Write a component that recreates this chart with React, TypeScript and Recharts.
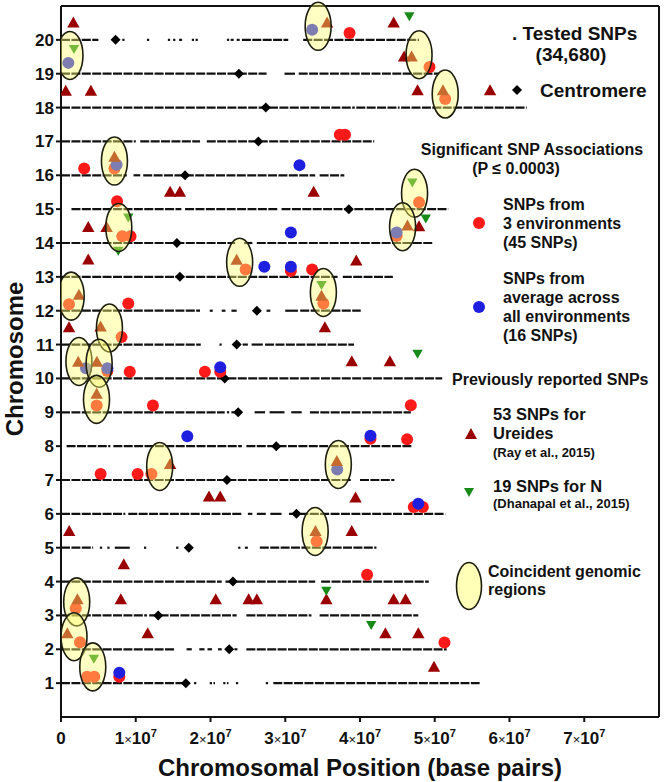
import React from "react";
import { ScatterChart, Scatter, XAxis, YAxis, ReferenceLine } from "recharts";

const FONT = '"Liberation Sans", Arial, Helvetica, sans-serif';

// chromosome numbers on the y axis
const chromosomes = [1, 2, 3, 4, 5, 6, 7, 8, 9, 10, 11, 12, 13, 14, 15, 16, 17, 18, 19, 20];
const xTicks = [0, 1e7, 2e7, 3e7, 4e7, 5e7, 6e7, 7e7];
const xTickLabels = ["0", "1", "2", "3", "4", "5", "6", "7"]; // mantissa of n×10^7

// centromere position (Mb) for chromosome 1..20
const centromereMb = [16.7, 22.5, 13.0, 23.0, 17.1, 31.5, 22.2, 28.8, 23.7, 21.9, 23.5, 26.2, 15.9, 15.5, 38.5, 16.6, 26.4, 27.4, 23.8, 7.3];

// covered stretches of tested SNPs: [chromosome, start Mb, end Mb]
const testedSegments: [number, number, number][] = [
  [1, 0, 16.4], [1, 17.8, 18.1], [1, 19.9, 20.2], [1, 20.4, 20.6], [1, 21.7, 22.0], [1, 22.2, 22.4], [1, 23.4, 23.7], [1, 27.4, 27.7], [1, 28.4, 56.0],
  [2, 0, 15.3], [2, 16.8, 17.5], [2, 18.5, 19.2], [2, 19.6, 20.2], [2, 21.0, 21.5], [2, 23.2, 23.6], [2, 24.8, 51.6],
  [3, 0, 11.5], [3, 11.8, 23.5], [3, 24.8, 33.5], [3, 34.6, 47.8],
  [4, 0, 21.5], [4, 22.0, 34.0], [4, 34.8, 49.2],
  [5, 0, 4.3], [5, 5.2, 5.5], [5, 6.2, 6.5], [5, 7.2, 9.2], [5, 11.1, 11.4], [5, 15.4, 15.7], [5, 23.7, 24.0], [5, 24.6, 25.0], [5, 26.6, 42.2],
  [6, 0, 8.6], [6, 9.0, 24.3], [6, 25.0, 25.6], [6, 26.2, 27.4], [6, 28.0, 29.5], [6, 30.5, 51.4],
  [7, 0, 38.9], [7, 40.0, 44.6],
  [8, 0.75, 6.6], [8, 7.0, 24.2], [8, 24.8, 47.0],
  [9, 0, 21.9], [9, 22.2, 22.5], [9, 22.8, 23.3], [9, 25.9, 27.3], [9, 27.9, 29.9], [9, 30.8, 32.2], [9, 33.3, 46.8],
  [10, 0, 51.0],
  [11, 0, 18.7], [11, 21.2, 21.5], [11, 24.3, 25.0], [11, 25.5, 27.0], [11, 27.3, 39.2],
  [12, 0, 18.6], [12, 19.9, 20.3], [12, 21.5, 22.0], [12, 22.8, 23.5], [12, 25.9, 26.6], [12, 27.5, 28.0], [12, 30.0, 31.7], [12, 32.0, 40.1],
  [13, 0, 37.0], [13, 37.7, 44.4],
  [14, 0, 23.3], [14, 24.5, 25.6], [14, 26.2, 49.7],
  [15, 1.4, 16.1], [15, 16.6, 29.0], [15, 29.5, 51.8],
  [16, 0, 8.8], [16, 9.7, 10.6], [16, 11.0, 34.0], [16, 34.6, 37.9],
  [17, 0, 10.0], [17, 10.6, 18.6], [17, 19.5, 41.9],
  [18, 0, 39.3], [18, 39.5, 45.3], [18, 45.5, 62.3],
  [19, 0, 27.5], [19, 29.9, 31.3], [19, 31.8, 50.6],
  [20, 0, 5.0], [20, 8.2, 8.5], [20, 11.5, 11.8], [20, 14.3, 14.6], [20, 15.0, 15.3], [20, 15.8, 16.2], [20, 17.5, 17.8], [20, 18.0, 18.3],
  [20, 22.2, 22.5], [20, 22.7, 23.1], [20, 23.5, 23.9], [20, 24.2, 30.4], [20, 32.4, 47.9],
];

// significant SNPs, [position Mb, plotted y]
const envSNPs: [number, number][] = [
  [38.6, 20.2], [49.3, 19.2], [51.4, 18.25], [37.3, 17.2], [38.0, 17.2], [3.1, 16.2], [7.15, 16.2], [7.5, 15.23], [47.9, 15.2],
  [8.2, 14.2], [9.3, 14.2], [44.9, 14.21], [24.7, 13.22], [30.75, 13.17], [33.6, 13.22], [1.07, 12.19], [9.0, 12.21], [35.1, 12.21],
  [8.1, 11.22], [6.2, 10.22], [9.2, 10.2], [19.25, 10.2], [21.3, 10.2], [4.77, 9.2], [12.3, 9.2], [46.8, 9.21], [41.4, 8.22],
  [46.3, 8.2], [5.3, 7.18], [10.25, 7.18], [12.1, 7.18], [47.2, 6.2], [48.4, 6.2], [34.2, 5.19], [40.95, 4.2], [1.97, 3.21],
  [2.54, 2.21], [51.3, 2.2], [3.5, 1.19], [4.45, 1.19], [7.8, 1.19],
];
const avgSNPs: [number, number][] = [
  [0.98, 19.32], [33.6, 20.3], [7.44, 16.31], [31.9, 16.3], [30.75, 14.31], [44.9, 14.31], [27.2, 13.3], [30.75, 13.3],
  [3.34, 10.3], [6.2, 10.3], [21.3, 10.33], [16.9, 8.29], [41.4, 8.31], [36.95, 7.31], [47.8, 6.3], [7.8, 1.31],
];
const ureideSNPs: [number, number][] = [
  [1.65, 20.5], [35.6, 20.5], [44.5, 20.5], [45.9, 19.49], [46.9, 19.49], [0.63, 18.48], [4.0, 18.48], [47.7, 18.5], [51.1, 18.5],
  [57.4, 18.5], [7.15, 16.53], [14.6, 15.5], [15.9, 15.5], [33.8, 15.5], [3.65, 14.46], [6.1, 14.46], [46.35, 14.5], [47.9, 14.48],
  [3.65, 13.5], [23.5, 13.49], [39.5, 13.47], [2.4, 12.46], [34.85, 12.43], [1.07, 11.5], [5.3, 11.52], [35.3, 11.5], [2.3, 10.48],
  [4.8, 10.48], [38.9, 10.49], [44.0, 10.49], [4.77, 9.53], [14.6, 7.46], [36.9, 7.55], [19.8, 6.5], [21.3, 6.5], [39.4, 6.47],
  [1.1, 5.48], [34.05, 5.48], [38.9, 5.48], [8.4, 4.5], [2.2, 3.46], [8.0, 3.46], [20.7, 3.46], [25.1, 3.46], [26.2, 3.46],
  [35.5, 3.46], [44.5, 3.46], [46.1, 3.46], [0.85, 2.46], [11.6, 2.46], [43.4, 2.46], [47.8, 2.46], [49.9, 1.47],
];
const nitrogenSNPs: [number, number][] = [
  [1.74, 19.73], [46.6, 20.7], [47.0, 15.79], [9.0, 14.75], [7.66, 13.77], [48.8, 14.72], [34.85, 12.76], [47.7, 10.73],
  [35.5, 3.73], [41.5, 2.72], [4.4, 1.72],
];
const coincidentRegions: [number, number][] = [
  [1.2, 19.54], [34.4, 20.4], [47.9, 19.56], [51.4, 18.4], [7.15, 16.42], [47.3, 15.47], [7.73, 14.46], [45.7, 14.48],
  [23.9, 13.43], [1.36, 12.43], [35.1, 12.54], [6.48, 11.49], [2.4, 10.5], [5.1, 10.45], [4.75, 9.38], [13.2, 7.4],
  [37.1, 7.46], [34.0, 5.48], [2.1, 3.4], [1.74, 2.37], [4.25, 1.48],
];

const toPts = (arr: [number, number][]) => arr.map(([mb, y]) => ({ x: mb * 1e6, y }));

const RED = "#ff1a1a";
const BLUE = "#1f1fe0";
const DARKRED = "#9b0000";
const GREEN = "#178a17";
const INK = "#111";

const Dot = (color: string) => (p: any) => <circle cx={p.cx} cy={p.cy} r={6} fill={color} />;
const UpTri = (p: any) => (
  <polygon points={`${p.cx},${p.cy - 6.5} ${p.cx - 6.2},${p.cy + 4.5} ${p.cx + 6.2},${p.cy + 4.5}`} fill={DARKRED} />
);
const DownTri = (p: any) => (
  <polygon points={`${p.cx - 5.2},${p.cy - 4} ${p.cx + 5.2},${p.cy - 4} ${p.cx},${p.cy + 5}`} fill={GREEN} />
);
const Diamond = (p: any) => (
  <polygon points={`${p.cx},${p.cy - 5} ${p.cx + 5},${p.cy} ${p.cx},${p.cy + 5} ${p.cx - 5},${p.cy}`} fill="#000" />
);
const Oval = (p: any) => (
  <ellipse cx={p.cx} cy={p.cy} rx={13} ry={24} fill="#ffff70" fillOpacity={0.42} stroke="#1e1e10" strokeWidth={1.6} />
);

function XTick({ x, y, payload, index }: any) {
  const m = xTickLabels[index];
  return (
    <text x={x} y={y + 20} textAnchor="middle" fontFamily={FONT} fontWeight="bold" fontSize={17} fill={INK}>
      {payload.value === 0 ? (
        m
      ) : (
        <>
          <tspan>{m}</tspan>
          <tspan fontSize={13} fontWeight="normal">×</tspan>
          <tspan>10</tspan>
          <tspan dy={-7} fontSize={11}>7</tspan>
        </>
      )}
    </text>
  );
}

const txt = { fontFamily: FONT, fontWeight: "bold" as const, fill: INK };

function Legend() {
  return (
    <svg width={665} height={782} style={{ position: "absolute", left: 0, top: 0, pointerEvents: "none" }}>
      <text x={512} y={40} fontSize={19} {...txt}>. Tested SNPs</text>
      <text x={571} y={61} fontSize={19} textAnchor="middle" {...txt}>(34,680)</text>
      <polygon points="517,85 522,90 517,95 512,90" fill="#000" />
      <text x={540} y={97} fontSize={19} {...txt}>Centromere</text>

      <text x={532} y={155} fontSize={16} textAnchor="middle" {...txt}>Significant SNP Associations</text>
      <text x={516} y={174} fontSize={16} textAnchor="middle" {...txt}>(P ≤ 0.0003)</text>

      <circle cx={479} cy={223} r={6} fill={RED} />
      <text x={503} y={210} fontSize={16} {...txt}>SNPs from</text>
      <text x={503} y={229} fontSize={16} {...txt}>3 environments</text>
      <text x={503} y={248} fontSize={16} {...txt}>(45 SNPs)</text>

      <circle cx={479} cy={307} r={6} fill={BLUE} />
      <text x={503} y={284} fontSize={16} {...txt}>SNPs from</text>
      <text x={503} y={303} fontSize={16} {...txt}>average across</text>
      <text x={503} y={322} fontSize={16} {...txt}>all environments</text>
      <text x={503} y={341} fontSize={16} {...txt}>(16 SNPs)</text>

      <text x={452} y={385} fontSize={16} {...txt}>Previously reported SNPs</text>

      <polygon points="471,428 465,439 477,439" fill={DARKRED} />
      <text x={493} y={420} fontSize={16.5} {...txt}>53 SNPs for</text>
      <text x={493} y={439} fontSize={16.5} {...txt}>Ureides</text>
      <text x={493} y={457} fontSize={13} {...txt}>(Ray et al., 2015)</text>

      <polygon points="464,488 474,488 469,497" fill={GREEN} />
      <text x={493} y={492} fontSize={16.5} {...txt}>19 SNPs for N</text>
      <text x={493} y={508} fontSize={13} {...txt}>(Dhanapal et al., 2015)</text>

      <ellipse cx={469} cy={586} rx={12.5} ry={23.5} fill="#ffffb8" stroke="#1e1e10" strokeWidth={1.6} />
      <text x={488} y={577} fontSize={16} {...txt}>Coincident genomic</text>
      <text x={488} y={595} fontSize={16} {...txt}>regions</text>

      <text x={23} y={359} fontSize={24} textAnchor="middle" transform="rotate(-90 23 359)" {...txt}>Chromosome</text>
      <text x={360} y={776} fontSize={24} textAnchor="middle" {...txt}>Chromosomal Position (base pairs)</text>
    </svg>
  );
}

export default function App() {
  const axisLine = { stroke: INK, strokeWidth: 2 };
  return (
    <div style={{ position: "absolute", left: 0, top: 0, width: 665, height: 782, background: "#fff" }}>
      <ScatterChart width={665} height={782} margin={{ top: 0, right: 0, bottom: 0, left: 0 }}>
        <XAxis
          xAxisId="bottom"
          type="number"
          dataKey="x"
          domain={[0, 8e7]}
          ticks={xTicks}
          interval={0}
          height={65}
          tickSize={5}
          axisLine={axisLine}
          tickLine={axisLine}
          tick={<XTick />}
          allowDataOverflow
        />
        <XAxis
          xAxisId="top"
          orientation="top"
          type="number"
          dataKey="x"
          domain={[0, 8e7]}
          ticks={xTicks.slice(1)}
          interval={0}
          height={6}
          tickSize={5}
          axisLine={axisLine}
          tickLine={axisLine}
          tick={false}
        />
        <YAxis
          yAxisId="left"
          type="number"
          dataKey="y"
          domain={[0, 21]}
          ticks={chromosomes}
          interval={0}
          width={61}
          tickSize={5}
          axisLine={axisLine}
          tickLine={axisLine}
          tick={{ fill: INK, fontSize: 17, fontWeight: "bold", fontFamily: FONT }}
        />
        <YAxis
          yAxisId="right"
          orientation="right"
          type="number"
          dataKey="y"
          domain={[0, 21]}
          ticks={chromosomes}
          interval={0}
          width={6}
          tickSize={5}
          axisLine={axisLine}
          tickLine={axisLine}
          tick={false}
        />

        {testedSegments.map(([c, a, b], i) => (
          <ReferenceLine
            key={`seg-${i}`}
            xAxisId="bottom"
            yAxisId="left"
            segment={[{ x: a * 1e6, y: c }, { x: b * 1e6, y: c }]}
            stroke={INK}
            strokeWidth={2.2}
            strokeDasharray={b - a > 2 ? "9 1.4" : undefined}
          />
        ))}

        <Scatter xAxisId="bottom" yAxisId="left" data={centromereMb.map((mb, i) => ({ x: mb * 1e6, y: chromosomes[i] }))} shape={Diamond} isAnimationActive={false} />
        <Scatter xAxisId="bottom" yAxisId="left" data={toPts(envSNPs)} shape={Dot(RED)} isAnimationActive={false} />
        <Scatter xAxisId="bottom" yAxisId="left" data={toPts(avgSNPs)} shape={Dot(BLUE)} isAnimationActive={false} />
        <Scatter xAxisId="bottom" yAxisId="left" data={toPts(ureideSNPs)} shape={UpTri} isAnimationActive={false} />
        <Scatter xAxisId="bottom" yAxisId="left" data={toPts(nitrogenSNPs)} shape={DownTri} isAnimationActive={false} />
        <Scatter xAxisId="bottom" yAxisId="left" data={toPts(coincidentRegions)} shape={Oval} isAnimationActive={false} />
      </ScatterChart>
      <Legend />
    </div>
  );
}
